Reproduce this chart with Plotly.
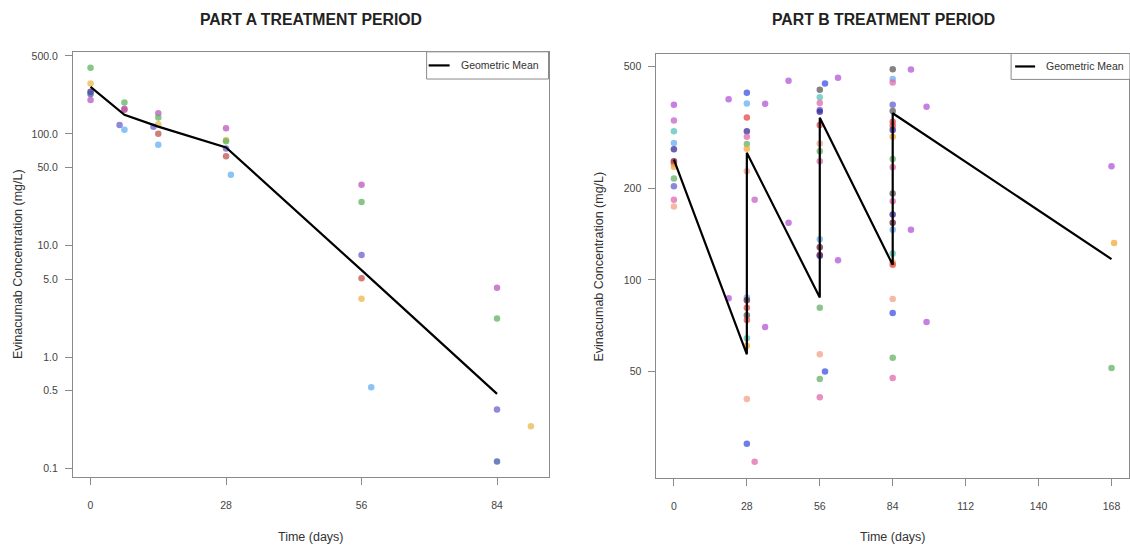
import plotly.graph_objects as go

# ---------------- Part A: individual concentrations ----------------
a_subject = ["A1", "A2", "A3", "A4", "A5",
             "A1", "A6", "A5", "A8", "A7",
             "A5", "A1", "A2", "A8", "A6", "A7",
             "A5", "A2", "A1", "A8", "A6", "A7",
             "A5", "A1", "A8", "A6", "A2", "A7",
             "A5", "A1", "A8", "A4", "A2"]
a_day = [0, 0, 0, 0, 0,
         7, 7, 7, 6, 7,
         14, 14, 14, 13, 14, 14,
         28, 28, 28, 28, 28, 29,
         56, 56, 56, 56, 56, 58,
         84, 84, 84, 84, 91]
a_conc = [391, 283, 238, 228, 201,
          191, 164, 168, 120, 109,
          153, 140, 122, 116, 100, 80,
          112, 88, 86, 74, 63, 43,
          35, 24.5, 8.2, 5.07, 3.33, 0.535,
          4.18, 2.21, 0.338, 0.116, 0.24]

# Part A geometric mean profile
a_mean_day = [0, 7, 14, 28, 56, 84]
a_mean_conc = [264, 148, 116, 75.5, 6.0, 0.467]

a_yticks = [0.1, 0.5, 1, 5, 10, 50, 100, 500]
a_yticktext = ["0.1", "0.5", "1.0", "5.0", "10.0", "50.0", "100.0", "500.0"]
a_xticks = [0, 28, 56, 84]

# ---------------- Part B: individual concentrations ----------------
b_subject = (
    # day 0
    ["B01", "B02", "B03", "B04", "B05", "B14", "B06", "B07", "B08", "B09", "B10", "B11"]
    # day 28 (peak and trough) plus nearby visits
    + ["B13", "B04", "B06", "B05", "B10", "B08", "B07", "B11",
       "B04", "B14", "B06", "B12", "B06", "B03", "B07", "B11", "B13",
       "B01", "B01", "B01", "B01", "B02", "B10", "B01", "B01"]
    # day 56 and nearby visits
    + ["B12", "B03", "B10", "B09", "B05", "B06", "B11", "B08", "B10",
       "B04", "B14", "B06", "B05",
       "B08", "B11", "B08", "B10",
       "B13", "B13", "B01", "B01"]
    # day 84 and nearby visits
    + ["B12", "B04", "B10", "B09", "B12", "B06", "B06", "B05", "B07", "B08",
       "B10", "B12", "B10", "B05", "B14", "B04", "B03", "B07", "B06",
       "B11", "B13", "B08", "B10",
       "B01", "B01", "B01", "B01"]
    # day 168
    + ["B01", "B07", "B08"]
)
b_day = (
    [0] * 12
    + [28] * 17 + [21, 21, 35, 35, 31, 31, 44, 44]
    + [56] * 17 + [58, 58, 63, 63]
    + [84] * 23 + [91, 91, 97, 97]
    + [168, 169, 168]
)
b_conc = (
    [375, 333, 307, 281, 268, 245, 241, 235, 215, 203, 183, 174]
    + [411, 379, 341, 307, 295, 279, 269, 227,
       87.5, 85.7, 81, 76.6, 73.8, 64.4, 60.8, 40.7, 29,
       391, 87, 378, 70, 183, 25.3, 450, 154]
    + [420, 397, 380, 361, 356, 322, 280, 264, 245,
       136, 128, 121, 120,
       81, 57, 47.3, 41.2,
       441, 50.1, 460, 116]
    + [491, 456, 444, 375, 358, 330, 320, 310, 295, 249,
       234, 192, 181, 164, 154, 146, 122, 114, 112,
       86.5, 77.9, 55.5, 47.7,
       490, 146, 370, 72.8]
    + [236, 132, 51.4]
)

# Part B geometric mean profile (trough then peak at each dosing day)
b_mean_day = [0, 28, 28, 56, 56, 84, 84, 168]
b_mean_conc = [248, 57, 261, 87.5, 340, 112, 352, 117]

b_yticks = [50, 100, 200, 500]
b_yticktext = ["50", "100", "200", "500"]
b_xticks = [0, 28, 56, 84, 112, 140, 168]

# ---------------- styling ----------------
PALETTE = {
    "A1": "#5fb35f", "A2": "#e9b949", "A3": "#4b2a7a", "A4": "#3c5aa8",
    "A5": "#bb55c0", "A6": "#c4524c", "A7": "#62b0f0", "A8": "#6a62cc",
    "B01": "#b255d8", "B02": "#c266c4", "B03": "#55c4bb", "B04": "#66adf2",
    "B05": "#3a2a98", "B06": "#e84444", "B07": "#f2a836", "B08": "#66b266",
    "B09": "#6060d0", "B10": "#e06aaa", "B11": "#f3a08a", "B12": "#5a5a5a",
    "B13": "#3e52e6", "B14": "#6a1e3e",
}

W, H = 1130, 549
FONT = "Liberation Sans, Arial, sans-serif"
BOX = "#8a8a8a"
TICKFONT = dict(family=FONT, size=10.5, color="#444444")


def px(x):
    return x / W


def py(y):
    return 1 - y / H


fig = go.Figure()

fig.add_trace(go.Scatter(
    x=a_day, y=a_conc, mode="markers", xaxis="x", yaxis="y",
    marker=dict(size=6.5, color=[PALETTE[s] for s in a_subject], opacity=0.75),
    showlegend=False, hoverinfo="x+y"))
fig.add_trace(go.Scatter(
    x=a_mean_day, y=a_mean_conc, mode="lines", xaxis="x", yaxis="y",
    line=dict(color="black", width=2.2), showlegend=False))

fig.add_trace(go.Scatter(
    x=b_day, y=b_conc, mode="markers", xaxis="x2", yaxis="y2",
    marker=dict(size=6.5, color=[PALETTE[s] for s in b_subject], opacity=0.75),
    showlegend=False, hoverinfo="x+y"))
fig.add_trace(go.Scatter(
    x=b_mean_day, y=b_mean_conc, mode="lines", xaxis="x2", yaxis="y2",
    line=dict(color="black", width=2.2), showlegend=False))

axis_common = dict(showgrid=False, zeroline=False, showline=True, mirror=True,
                   linecolor=BOX, linewidth=1, ticks="outside", ticklen=7,
                   tickcolor=BOX, tickwidth=1, tickfont=TICKFONT)

fig.update_layout(
    width=W, height=H,
    margin=dict(l=0, r=0, t=0, b=0),
    paper_bgcolor="white", plot_bgcolor="white",
    font=dict(family=FONT),
    xaxis=dict(domain=[px(73), px(549)], range=[-3.64, 94.64],
               tickvals=a_xticks, ticklabelstandoff=11, anchor="y", **axis_common),
    yaxis=dict(domain=[py(476.7), py(50)], type="log", range=[-1.075, 2.735],
               tickvals=a_yticks, ticktext=a_yticktext, ticklabelstandoff=5,
               anchor="x", **axis_common),
    xaxis2=dict(domain=[px(657), 1.0], range=[-6.72, 174.72],
                tickvals=b_xticks, ticklabelstandoff=11, anchor="y2", **axis_common),
    yaxis2=dict(domain=[py(477.7), py(51.7)], type="log", range=[1.3503, 2.7425],
                tickvals=b_yticks, ticktext=b_yticktext, ticklabelstandoff=5,
                anchor="x2", **axis_common),
)

annotations = []
# Panel titles
for text, xc in (("PART A TREATMENT PERIOD", 311), ("PART B TREATMENT PERIOD", 884)):
    annotations.append(dict(text=f"<b>{text}</b>", x=px(xc), y=py(18), xref="paper",
                            yref="paper", showarrow=False, xanchor="center",
                            yanchor="middle", font=dict(family=FONT, size=15.8, color="#222")))
# Axis titles
for xc in (311, 894):
    annotations.append(dict(text="Time (days)", x=px(xc), y=py(537), xref="paper",
                            yref="paper", showarrow=False, xanchor="center",
                            yanchor="middle", font=dict(family=FONT, size=12.5, color="#333")))
for xc, yc in ((18, 263), (600, 265)):
    annotations.append(dict(text="Evinacumab Concentration (mg/L)", x=px(xc), y=py(yc),
                            xref="paper", yref="paper", showarrow=False, textangle=-90,
                            xanchor="center", yanchor="middle",
                            font=dict(family=FONT, size=12.5, color="#333")))

shapes = []
# Legend boxes with the geometric mean key
for bx0, bx1, by0, by1, lx0, lx1, tx in ((427, 549, 50, 77.3, 429, 450, 459),
                                          (1012, 1131, 51.7, 77.7, 1016, 1036, 1045)):
    shapes.append(dict(type="rect", xref="paper", yref="paper",
                       x0=px(bx0), x1=px(bx1), y0=py(by1), y1=py(by0),
                       line=dict(color=BOX, width=1), fillcolor="white", layer="above"))
    ym = (by0 + by1) / 2
    shapes.append(dict(type="line", xref="paper", yref="paper",
                       x0=px(lx0), x1=px(lx1), y0=py(ym), y1=py(ym),
                       line=dict(color="black", width=2.2), layer="above"))
    annotations.append(dict(text="Geometric Mean", x=px(tx), y=py(ym), xref="paper",
                            yref="paper", showarrow=False, xanchor="left",
                            yanchor="middle", font=dict(family=FONT, size=10.5, color="#333")))

fig.update_layout(annotations=annotations, shapes=shapes)

fig.write_html("out.html")
